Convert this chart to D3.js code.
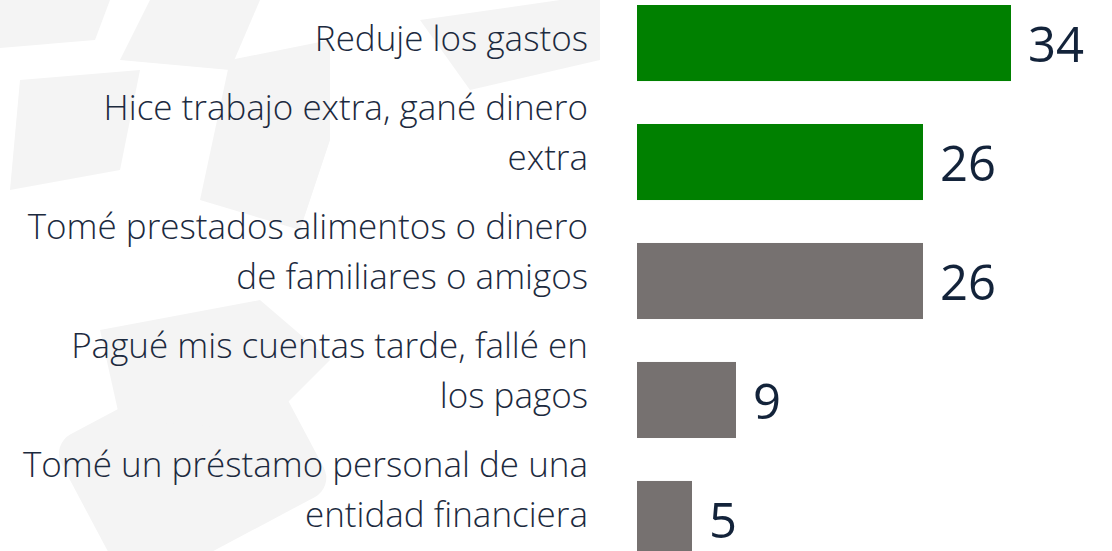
<!DOCTYPE html>
<html>
<head>
<meta charset="utf-8">
<script src="https://cdn.jsdelivr.net/npm/d3@7"></script>
<style>
	html, body { margin: 0; padding: 0; background: #fff; overflow: hidden; }
	svg { display: block; }
</style>
</head>
<body>
<div id="chart"></div>
<script>
// chart data
const categories = [
	'Reduje los gastos',
	'Hice trabajo extra, gané dinero extra',
	'Tomé prestados alimentos o dinero de familiares o amigos',
	'Pagué mis cuentas tarde, fallé en los pagos',
	'Tomé un préstamo personal de una entidad financiera'
]
const labelLines = [
	['Reduje los gastos'],
	['Hice trabajo extra, gané dinero', 'extra'],
	['Tomé prestados alimentos o dinero', 'de familiares o amigos'],
	['Pagué mis cuentas tarde, fallé en', 'los pagos'],
	['Tomé un préstamo personal de una', 'entidad financiera']
]
const values = [34, 26, 26, 9, 5]
const barColors = ['#008000', '#008000', '#767170', '#767170', '#767170']

const width = 1112
const height = 551

const svg = d3.select('#chart')
	.append('svg')
	.attr('width', width)
	.attr('height', height)

// faint watermark in the background
const wm = svg.append('g').attr('fill', '#f4f4f4')
wm.append('path').attr('d', 'M0,0 L110,0 L95,40 L0,48 Z')
wm.append('path').attr('d', 'M150,0 L260,0 L230,70 L120,60 Z')
wm.append('path').attr('d', 'M20,80 L140,70 L120,170 L10,190 Z')
wm.append('path').attr('d', 'M230,60 L330,40 L330,140 L300,230 L200,200 Z')
wm.append('path').attr('d', 'M420,20 L560,0 L600,0 L600,60 L470,90 Z')
wm.append('rect')
	.attr('x', -10).attr('y', 0)
	.attr('width', 230).attr('height', 170)
	.attr('rx', 22)
	.attr('transform', 'translate(60,440) rotate(-28)')
wm.append('path').attr('d', 'M100,330 L260,300 L330,360 L260,430 L120,420 Z')

const x = d3.scaleLinear()
	.domain([0, 34])
	.range([637, 1011])

const y = d3.scaleBand()
	.domain(categories)
	.range([5, 557])
	.paddingInner(0.361)
	.paddingOuter(0)

svg.append('g')
	.selectAll('rect')
	.data(categories)
	.join('rect')
	.attr('x', x(0))
	.attr('y', d => y(d))
	.attr('width', (d, i) => x(values[i]) - x(0))
	.attr('height', y.bandwidth())
	.attr('fill', (d, i) => barColors[i])

// value labels
svg.append('g')
	.selectAll('text')
	.data(categories)
	.join('text')
	.attr('x', (d, i) => x(values[i]) + 17)
	.attr('y', d => y(d) + y.bandwidth() / 2 + 19)
	.attr('fill', '#13233a')
	.attr('font-family', '"Open Sans", "Noto Sans", sans-serif')
	.attr('font-size', 49)
	.text((d, i) => values[i])

// category labels, right aligned, last line sits near the bar centre
const lineH = 50
const labels = svg.append('g')
	.selectAll('text')
	.data(categories)
	.join('text')
	.attr('text-anchor', 'end')
	.attr('fill', '#1c2a3e')
	.attr('font-family', '"Open Sans", "Noto Sans", sans-serif')
	.attr('font-weight', 300)
	.attr('font-size', 35)

labels.each(function(d, i) {
	const lines = labelLines[i]
	const last = y(d) + y.bandwidth() / 2 + 8
	d3.select(this).selectAll('tspan')
		.data(lines)
		.join('tspan')
		.attr('x', 588)
		.attr('y', (l, j) => last - (lines.length - 1 - j) * lineH)
		.text(l => l)
})
</script>
</body>
</html>
